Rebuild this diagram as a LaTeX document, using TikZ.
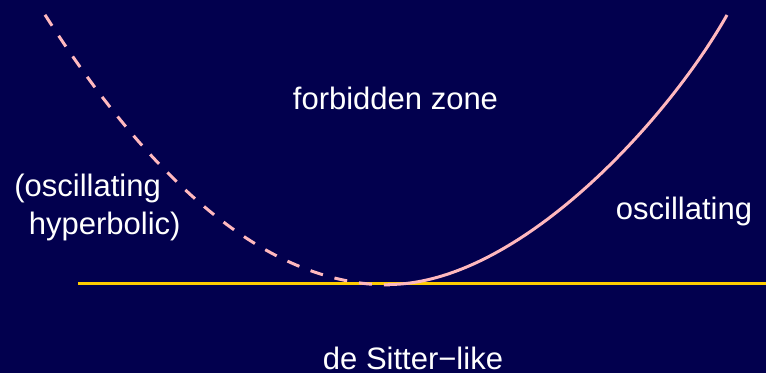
\documentclass[tikz,border=0pt]{standalone}
\usepackage{fontspec}
\setmainfont{Liberation Sans}
\usepackage{tikz}
\usetikzlibrary{positioning}
\definecolor{bgnavy}{RGB}{2,0,78}
\definecolor{curvepink}{RGB}{255,184,190}
\definecolor{lineyellow}{RGB}{255,204,0}

\begin{document}
\begin{tikzpicture}[
        x=0.5pt,
        y=-0.5pt,
        label/.style={
            text=white,
            inner sep=0pt,
            font=\fontsize{15.5}{18}\selectfont
        },
        branch/.style={curvepink, line width=1.5pt, line cap=butt},
        axis/.style={lineyellow, line width=1.5pt}
    ]

    % BACKGROUND
    \fill[bgnavy] (0,0) rectangle (766,373);
    \useasboundingbox (0,0) rectangle (766,373);

    % REGION LABELS
    \node[label, anchor=base] (forbid) at (395.5,110) {forbidden zone};
    \node[label, anchor=base west] (hypa) at (14,197) {(oscillating};
    \node[label, anchor=base west] (hypb) at (28.5,235) {hyperbolic)};
    \node[label, anchor=base west] (osc) at (615.5,220) {oscillating};
    \node[label, anchor=base] (desitter) at (413,370) {de Sitter−like};

    % HORIZONTAL LINE
    \coordinate (axisL) at (78,284);
    \coordinate (axisR) at (766,284);
    \draw[axis] (axisL) -- (axisR);

    % LEFT BRANCH (dashed)
    \draw[branch, dash pattern=on 6.5pt off 6pt]
        plot[domain=45:390, samples=60] (\x, {285-22.7*((\x-390)/100)^2});

    % RIGHT BRANCH (solid)
    \coordinate (bottom) at (388,284.5);
    \coordinate (top) at (727,15);
    \draw[branch] (bottom) .. controls (518,284.5) and (667,121) .. (top);

\end{tikzpicture}
\end{document}
